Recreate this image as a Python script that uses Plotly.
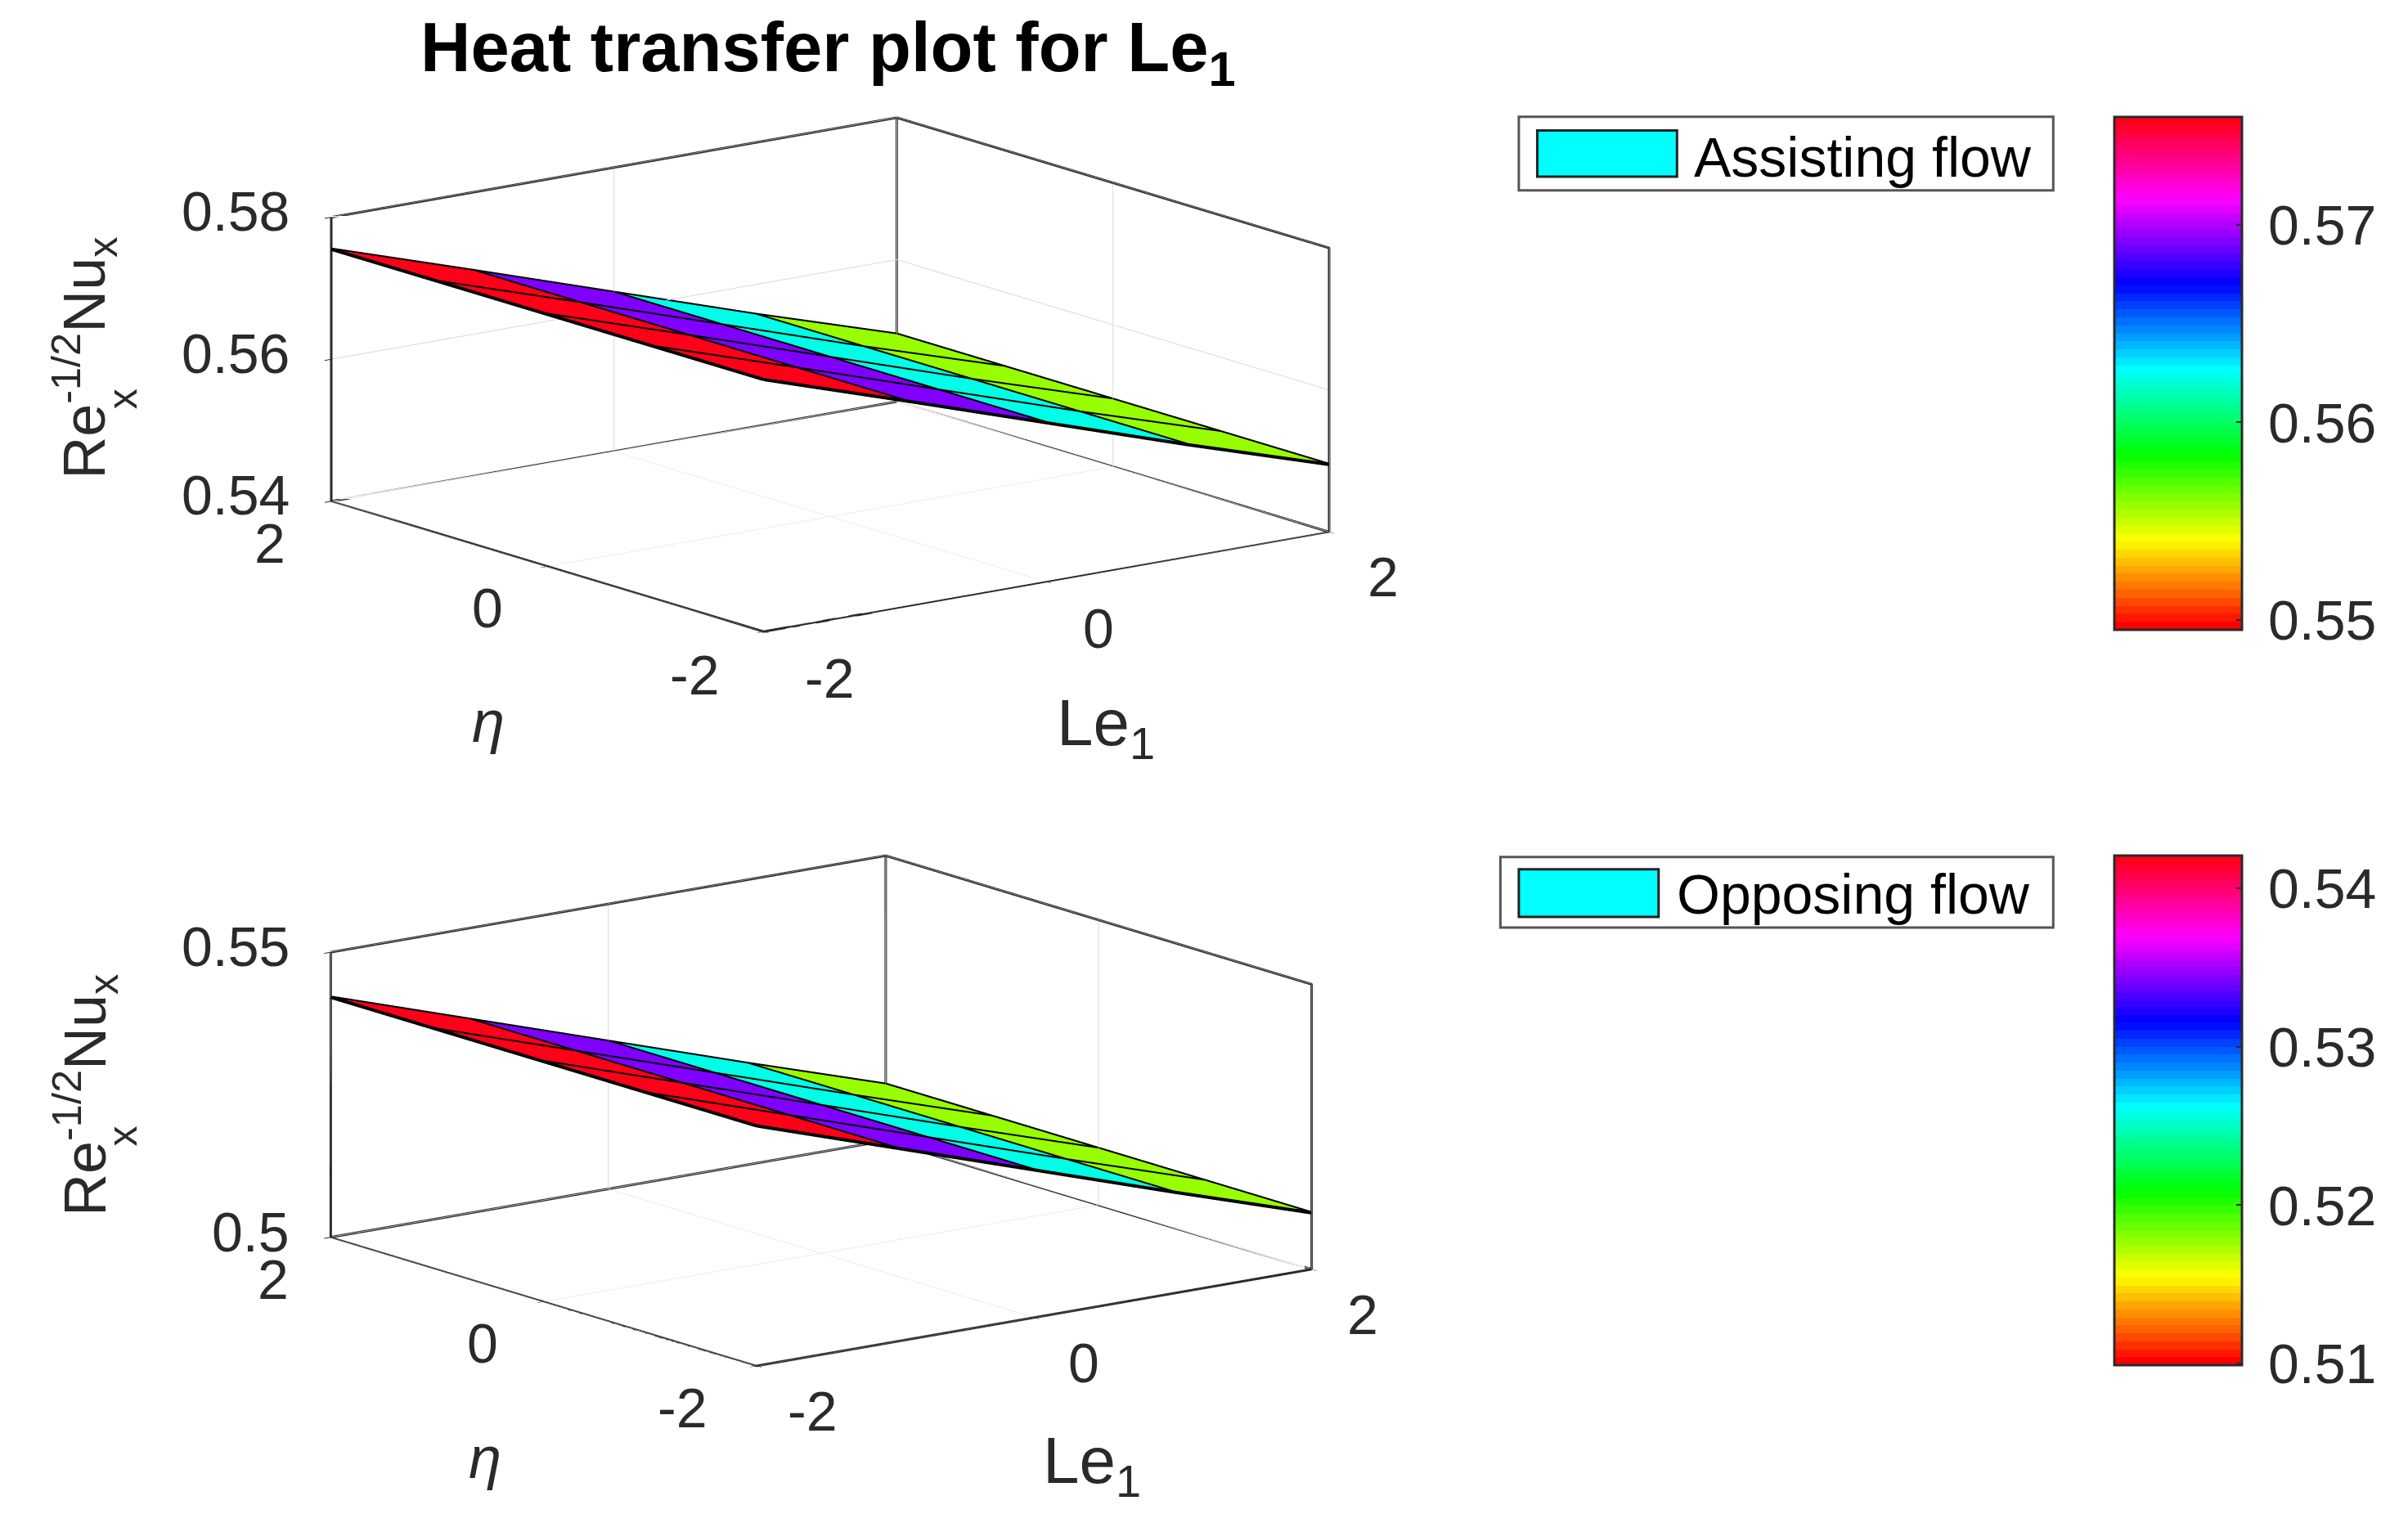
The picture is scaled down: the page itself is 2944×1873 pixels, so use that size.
import colorsys
import plotly.graph_objects as go

W, H = 2944, 1873
S = 2944 / 1568
PAGE = 8  # page margin of the browser body, in pixels

# ---- data ----
le_values = [-2, -1, 0, 1, 2]
eta_values = [-2, -1, 0, 1, 2]
nu_assisting = [0.5755, 0.5690, 0.5624, 0.5558, 0.5495]
nu_opposing = [0.5421, 0.5340, 0.5259, 0.5178, 0.5099]
xy_ticks = [-2, 0, 2]
z_ticks_top = [0.54, 0.56, 0.58]
z_ticks_bottom = [0.5, 0.55]
z_range_top = [0.54, 0.58]
z_range_bottom = [0.5, 0.55]
cbar_ticks_top = [0.55, 0.56, 0.57]
cbar_ticks_bottom = [0.51, 0.52, 0.53, 0.54]
title_text = "<b>Heat transfer plot for Le<sub>1</sub></b>"
legend_top = "Assisting flow"
legend_bottom = "Opposing flow"

FONT = "Liberation Sans"
INK = "#2a2a2a"
TICK_SIZE = 68
EYE_M = 5.0


def hsv_scale(n=64):
    out = []
    for i in range(n):
        r, g, b = colorsys.hsv_to_rgb(i / n, 1, 1)
        c = f"rgb({round(r*255)},{round(g*255)},{round(b*255)})"
        out.append([i / n, c])
        out.append([(i + 1) / n, c])
    return out


HSV = hsv_scale()


def fx(x):
    return (x * S - PAGE) / W


def fy(y):
    return 1 - (y * S - PAGE) / H


def mesh_trace(zvals, scene, cby):
    n, m = len(le_values), len(eta_values)
    xs, ys, zs, ii, jj, kk, cell = [], [], [], [], [], [], []
    for a in range(n):
        for b in range(m):
            xs.append(le_values[a])
            ys.append(eta_values[b])
            zs.append(zvals[a])
    for a in range(n - 1):
        for b in range(m - 1):
            p = a * m + b
            q = (a + 1) * m + b
            ii += [p, p]
            jj += [q, q + 1]
            kk += [q + 1, p + 1]
            cell += [zvals[a], zvals[a]]
    return go.Mesh3d(
        x=xs, y=ys, z=zs, i=ii, j=jj, k=kk, intensity=cell, intensitymode="cell",
        colorscale=HSV, cmin=min(zvals), cmax=max(zvals), flatshading=True,
        lighting=dict(ambient=1, diffuse=0, specular=0, roughness=1, fresnel=0),
        hoverinfo="skip", scene=scene, showscale=True,
        colorbar=dict(
            x=fx(1377), xanchor="left", xpad=0, ypad=0,
            y=fy(cby[0]), yanchor="top",
            len=(cby[1] - cby[0]) * S / H, lenmode="fraction",
            thickness=83 * S, thicknessmode="pixels",
            outlinecolor=INK, outlinewidth=3,
            tickvals=cbar_ticks_top if scene == "scene" else cbar_ticks_bottom,
            ticks="inside", ticklen=8, tickcolor=INK, tickwidth=2,
            showticklabels=False,
        ),
    )


def grid_lines(zvals, scene):
    xs, ys, zs = [], [], []
    for a, le in enumerate(le_values):
        for e in eta_values:
            xs.append(le); ys.append(e); zs.append(zvals[a])
        xs.append(None); ys.append(None); zs.append(None)
    for e in eta_values:
        for a, le in enumerate(le_values):
            xs.append(le); ys.append(e); zs.append(zvals[a])
        xs.append(None); ys.append(None); zs.append(None)
    return go.Scatter3d(x=xs, y=ys, z=zs, mode="lines", scene=scene,
                        line=dict(color="black", width=8), hoverinfo="skip", showlegend=False)


def box_lines(zr, scene):
    x0, x1 = le_values[0], le_values[-1]
    y0, y1 = eta_values[0], eta_values[-1]
    z0, z1 = zr
    path = [
        (x0, y1, z1), (x0, y1, z0), (x0, y0, z0), (x1, y0, z0), (x1, y1, z0), (x0, y1, z0), None,
        (x1, y1, z0), (x1, y1, z1), None,
        (x1, y0, z0), (x1, y0, z1), (x1, y1, z1), (x0, y1, z1),
    ]
    xs = [p[0] if p else None for p in path]
    ys = [p[1] if p else None for p in path]
    zs = [p[2] if p else None for p in path]
    return go.Scatter3d(x=xs, y=ys, z=zs, mode="lines", scene=scene,
                        line=dict(color=INK, width=6), hoverinfo="skip", showlegend=False)


def axis(ticks, rng):
    return dict(
        range=rng, tickvals=ticks, showticklabels=False,
        showgrid=True, gridcolor="#d8d8d8", gridwidth=2, zeroline=False,
        showline=True, linecolor=INK, linewidth=4,
        showbackground=False, showspikes=False,
        ticks="outside", ticklen=10, tickcolor=INK, tickwidth=2,
        title=dict(text=""),
    )


def tick_note(x, y, z, text, dx, dy, anchor="center"):
    return dict(x=x, y=y, z=z, text=text, showarrow=False, xanchor=anchor, yanchor="middle",
                xshift=dx * S, yshift=-dy * S,
                font=dict(family=FONT, size=TICK_SIZE, color=INK))


def tick_notes(zticks, zr, zx, eta_d, le_d):
    x0, x1 = le_values[0], le_values[-1]
    y0, y1 = eta_values[0], eta_values[-1]
    out = []
    for z in zticks:
        out.append(tick_note(x0, y1, z, f"{z:g}", zx, -4, "right"))
    for t, d in zip(xy_ticks, eta_d):
        out.append(tick_note(x0, t, zr[0], str(t), d[0], d[1]))
    for t, d in zip(xy_ticks, le_d):
        out.append(tick_note(t, y0, zr[0], str(t), d[0], d[1]))
    return out


def scene_cfg(cx, cy, halfw, halfh, eye, aspect, zoom, ztick, zr, notes):
    return dict(
        domain=dict(x=[(cx - PAGE - halfw) / W, (cx - PAGE + halfw) / W],
                    y=[1 - (cy - PAGE + halfh) / H, 1 - (cy - PAGE - halfh) / H]),
        camera=dict(eye=dict(x=eye[0] * EYE_M, y=eye[1] * EYE_M, z=eye[2] * EYE_M),
                    up=dict(x=0, y=0, z=1), center=dict(x=0, y=0, z=0),
                    projection=dict(type="orthographic")),
        aspectmode="manual",
        aspectratio=dict(x=aspect[0] * zoom, y=aspect[1] * zoom, z=aspect[2] * zoom),
        xaxis=axis(xy_ticks, [le_values[0], le_values[-1]]),
        yaxis=axis(xy_ticks, [eta_values[0], eta_values[-1]]),
        zaxis=axis(ztick, zr),
        bgcolor="rgba(0,0,0,0)",
        annotations=notes,
    )


fig = go.Figure()
fig.add_trace(mesh_trace(nu_assisting, "scene", (76, 410)))
fig.add_trace(grid_lines(nu_assisting, "scene"))
fig.add_trace(box_lines(z_range_top, "scene"))
fig.add_trace(mesh_trace(nu_opposing, "scene2", (557, 889)))
fig.add_trace(grid_lines(nu_opposing, "scene2"))
fig.add_trace(box_lines(z_range_bottom, "scene2"))


def note(text, x, y, size, angle=0, anchor="center", color=INK):
    return dict(text=text, x=fx(x), y=fy(y), xref="paper", yref="paper",
                showarrow=False, textangle=angle, xanchor=anchor, yanchor="middle",
                font=dict(family=FONT, size=size, color=color))


def cbar_notes(ticks, zvals, top, bottom):
    lo, hi = min(zvals), max(zvals)
    return [note(f"{t:g}", 1476, bottom - (t - lo) / (hi - lo) * (bottom - top), TICK_SIZE, anchor="left")
            for t in ticks]


annots = [
    note(title_text, 539, 34, 85, color="black"),
    # first panel
    note("Re<sup>-1/2</sup>Nu<sub>x</sub>", 55, 233, 72, angle=-90),
    note("x", 80, 260, 50, angle=-90),
    note("Le<sub>1</sub>", 720, 474, 80),
    note("<i>η</i>", 318, 470, 72),
    note(legend_top, 1102, 102, 68, anchor="left", color="black"),
    # second panel
    note("Re<sup>-1/2</sup>Nu<sub>x</sub>", 55, 713, 72, angle=-90),
    note("x", 80, 740, 50, angle=-90),
    note("Le<sub>1</sub>", 711, 954, 80),
    note("<i>η</i>", 316, 949, 72),
    note(legend_bottom, 1091, 582, 68, anchor="left", color="black"),
] + cbar_notes(cbar_ticks_top, nu_assisting, 76, 410) + cbar_notes(cbar_ticks_bottom, nu_opposing, 557, 889)


def rect(x0, y0, x1, y1, fill, line):
    return dict(type="rect", xref="paper", yref="paper",
                x0=fx(x0), x1=fx(x1), y0=fy(y0), y1=fy(y1),
                fillcolor=fill, line=dict(color=line, width=3))


shapes = [
    rect(989, 76, 1337, 124, "white", "#555555"),
    rect(1001, 85, 1092, 115, "#00ffff", "#222222"),
    rect(977, 558, 1337, 604, "white", "#555555"),
    rect(989, 566, 1080, 597, "#00ffff", "#222222"),
]

notes_top = tick_notes(z_ticks_top, z_range_top, -26,
                       [(-45, 28), (-39, 27), (-40, 27)],
                       [(43, 30), (34, 30), (35, 29)])
notes_bottom = tick_notes(z_ticks_bottom, z_range_bottom, -26,
                          [(-49, 27), (-40, 27), (-38, 27)],
                          [(36, 29), (32, 29), (33, 29)])

fig.update_layout(
    width=W, height=H, margin=dict(l=0, r=0, t=0, b=0),
    paper_bgcolor="white", plot_bgcolor="white", showlegend=False,
    annotations=annots, shapes=shapes,
    scene=scene_cfg(540.5 * S, 244 * S, 700, 450, (-0.591, -0.773, 0.2304), (1, 1, 0.41), 1.934,
                    z_ticks_top, z_range_top, notes_top),
    scene2=scene_cfg(535 * S, 723.5 * S, 700, 450, (-0.5885, -0.7753, 0.2292), (0.989, 1, 0.4156), 1.914,
                     z_ticks_bottom, z_range_bottom, notes_bottom),
)
fig.write_html("out.html")
